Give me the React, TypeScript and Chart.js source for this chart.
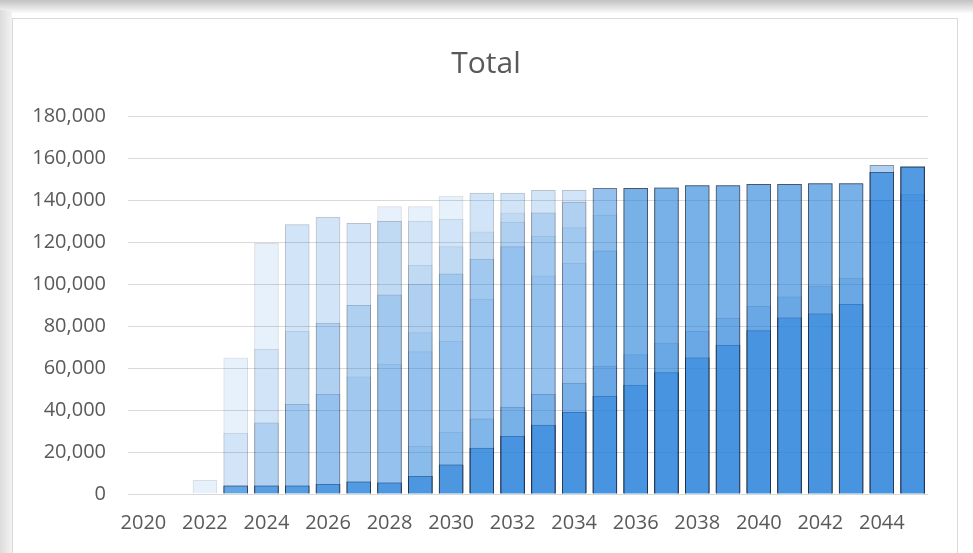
import React, { useEffect, useRef } from "react";
import { Chart, registerables } from "chart.js";

Chart.register(...registerables);

const years = [
  "2020", "2021", "2022", "2023", "2024", "2025", "2026", "2027", "2028",
  "2029", "2030", "2031", "2032", "2033", "2034", "2035", "2036", "2037",
  "2038", "2039", "2040", "2041", "2042", "2043", "2044", "2045",
];

const yTickValues = [0, 20000, 40000, 60000, 80000, 100000, 120000, 140000, 160000, 180000];

const chartTitle = "Total";

// Overlapping translucent series (Excel-style 100% overlap), values per year 2020..2045
const s01 = [null, null, 6700, 65000, 119500, 128500, 132000, 129000, 137000, 137000, 142000, 143500, 143500, 144800, 144800, 145700, 145700, 146000, 147000, 147000, 147600, 147600, 148000, 148000, 156700, 156000];
const s02 = [null, null, null, 29000, 69000, 128500, 132000, 129000, 130000, 130000, 131000, 143500, 143500, 144800, 144800, 145700, 145700, 146000, 147000, 147000, 147600, 147600, 148000, 148000, 156700, 156000];
const s03 = [null, null, null, 4000, 34000, 77600, 81500, 90000, 130000, 109000, 118000, 125000, 134000, 134000, 139000, 145700, 145700, 146000, 147000, 147000, 147600, 147600, 148000, 148000, 156700, 156000];
const s04 = [null, null, null, 4000, 34000, 42800, 81500, 90000, 95000, 100000, 105000, 112000, 129500, 134000, 139000, 145700, 145700, 146000, 147000, 147000, 147600, 147600, 148000, 148000, 156700, 156000];
const s05 = [null, null, null, 4000, 4000, 42800, 47600, 56000, 95000, 77000, 105000, 112000, 118000, 123000, 127000, 145700, 145700, 146000, 147000, 147000, 147600, 147600, 148000, 148000, 153300, 156000];
const s06 = [null, null, null, 4000, 4000, 4000, 47600, 6000, 62000, 68000, 73000, 93000, 118000, 104000, 110000, 145700, 145700, 146000, 147000, 147000, 147600, 147600, 148000, 148000, 153300, 156000];
const s07 = [null, null, null, 4000, 4000, 4000, 4800, 6000, 5500, 23000, 29500, 36000, 41500, 47600, 53000, 133000, 145700, 146000, 147000, 147000, 147600, 147600, 148000, 148000, 153300, 156000];
const s08 = [null, null, null, 4000, 4000, 4000, 4800, 6000, 5500, 8600, 14000, 36000, 41500, 47600, 53000, 116000, 145700, 146000, 147000, 147000, 147600, 147600, 148000, 148000, 153300, 156000];
const s09 = [null, null, null, 4000, 4000, 4000, 4800, 6000, 5500, 8600, 14000, 22000, 41500, 47600, 53000, 116000, 145700, 146000, 147000, 147000, 147600, 147600, 148000, 148000, 153300, 156000];
const s10 = [null, null, null, 4000, 4000, 4000, 4800, 6000, 5500, 8600, 14000, 22000, 27600, 33000, 39000, 61000, 66600, 72000, 77600, 83800, 89500, 94000, 99000, 103000, 153300, 156000];
const s11 = [null, null, null, 4000, 4000, 4000, 4800, 6000, 5500, 8600, 14000, 22000, 27600, 33000, 39000, 61000, 66600, 72000, 77600, 83800, 89500, 94000, 99000, 103000, 153300, 156000];
const s12 = [null, null, null, 4000, 4000, 4000, 4800, 6000, 5500, 8600, 14000, 22000, 27600, 33000, 39000, 46700, 52000, 58000, 65000, 71000, 78000, 84000, 86000, 90500, 153300, 156000];
const s13 = [null, null, null, null, 4000, 4000, 4800, 6000, 5500, 8600, 14000, 22000, 27600, 33000, 39000, 46700, 52000, 58000, 65000, 71000, 78000, 84000, 86000, 90500, 153300, 156000];
const s14 = [null, null, null, null, 4000, 4000, 4800, 6000, 5500, 8600, 14000, 22000, 27600, 33000, 39000, 46700, 52000, 58000, 65000, 71000, 78000, 84000, 86000, 90500, 153300, 156000];
const s15 = [null, null, null, null, null, 4000, 4800, 6000, 5500, 8600, 14000, 22000, 27600, 33000, 39000, 46700, 52000, 58000, 65000, 71000, 78000, 84000, 86000, 90500, 153300, 156000];
const s16 = [null, null, null, null, null, null, 4800, 6000, 5500, 8600, 14000, 22000, 27600, 33000, 39000, 46700, 52000, 58000, 65000, 71000, 78000, 84000, 86000, 90500, 153300, 156000];
const s17 = [null, null, null, null, null, null, null, null, 5500, 8600, 14000, 22000, 27600, 33000, 39000, 46700, 52000, 58000, 65000, 71000, 78000, 84000, 86000, 90500, 140000, 143000];
const s18 = [null, null, null, null, null, null, null, null, null, 8600, 14000, 22000, 27600, 33000, 39000, 46700, 52000, 58000, 65000, 71000, 78000, 84000, 86000, 90500, 140000, 143000];
const s19 = [null, null, null, null, null, null, null, null, null, null, null, 22000, 27600, 33000, 39000, 46700, 52000, 58000, 65000, 71000, 78000, 84000, 86000, 90500, 140000, 143000];
const s20 = [null, null, null, null, null, null, null, null, null, null, null, null, 27600, 33000, 39000, 46700, 52000, 58000, 65000, 71000, 78000, 84000, 86000, 90500, 140000, 143000];

const seriesList = [s01, s02, s03, s04, s05, s06, s07, s08, s09, s10, s11, s12, s13, s14, s15, s16, s17, s18, s19, s20];

const FONT = "'Open Sans', 'Noto Sans', sans-serif";
const TEXT = "#595959";

export default function App() {
  const ref = useRef<HTMLCanvasElement>(null);

  useEffect(() => {
    const canvas = ref.current;
    if (!canvas) return;
    const chart = new Chart(canvas, {
      type: "bar",
      data: {
        labels: years,
        datasets: seriesList.map((d, i) => ({
          label: `Series ${i + 1}`,
          data: d as any,
          backgroundColor: "rgba(60,140,225,0.12)",
          borderColor: "rgba(30,45,75,0.17)",
          borderWidth: 1,
          grouped: false,
          categoryPercentage: 1,
          barPercentage: 0.8,
        })),
      },
      options: {
        responsive: false,
        animation: false,
        devicePixelRatio: 1,
        layout: { padding: { left: 18, right: 45, top: 116, bottom: 17 } },
        plugins: {
          legend: { display: false },
          tooltip: { enabled: false },
          title: { display: false },
        },
        scales: {
          x: {
            grid: { display: false, drawTicks: false },
            border: { display: false },
            ticks: {
              autoSkip: false,
              maxRotation: 0,
              minRotation: 0,
              color: TEXT,
              font: { family: FONT, size: 20 },
              padding: 17,
              callback: (_v: any, i: number) => (i % 2 === 0 ? years[i] : ""),
            },
            afterFit: (s: any) => {
              s.height = 42;
            },
          },
          y: {
            min: 0,
            max: yTickValues[yTickValues.length - 1],
            afterBuildTicks: (s: any) => {
              s.ticks = yTickValues.map((v) => ({ value: v }));
            },
            ticks: {
              color: TEXT,
              font: { family: FONT, size: 20 },
              padding: 22,
              callback: (v: any) => Number(v).toLocaleString("en-US"),
            },
            grid: { color: "#d9d9d9", drawTicks: false, lineWidth: 1 },
            border: { display: false },
            afterFit: (s: any) => {
              s.width = 110;
            },
          },
        },
      },
    });
    return () => chart.destroy();
  }, []);

  return (
    <div
      style={{
        position: "fixed",
        left: 0,
        top: 0,
        width: 973,
        height: 553,
        overflow: "hidden",
        background: "#ffffff",
      }}
    >
      <div
        style={{
          position: "absolute",
          left: 0,
          top: 0,
          width: 973,
          height: 14,
          background: "linear-gradient(#c2c2c2, #ffffff)",
        }}
      />
      <div
        style={{
          position: "absolute",
          left: 0,
          top: 10,
          width: 12,
          height: 543,
          background: "linear-gradient(to right, #dcdcdc, #f3f3f3)",
        }}
      />
      <div
        style={{
          position: "absolute",
          left: 12,
          top: 18,
          width: 946,
          height: 600,
          border: "1px solid #d9d9d9",
          background: "#ffffff",
          boxSizing: "border-box",
        }}
      />
      <canvas
        ref={ref}
        width={973}
        height={553}
        style={{ position: "absolute", left: 0, top: 0 }}
      />
      <div
        style={{
          position: "absolute",
          left: 0,
          top: 44,
          width: 972,
          height: 36,
          lineHeight: "36px",
          textAlign: "center",
          fontFamily: FONT,
          fontSize: 30,
          color: TEXT,
        }}
      >
        {chartTitle}
      </div>
    </div>
  );
}
